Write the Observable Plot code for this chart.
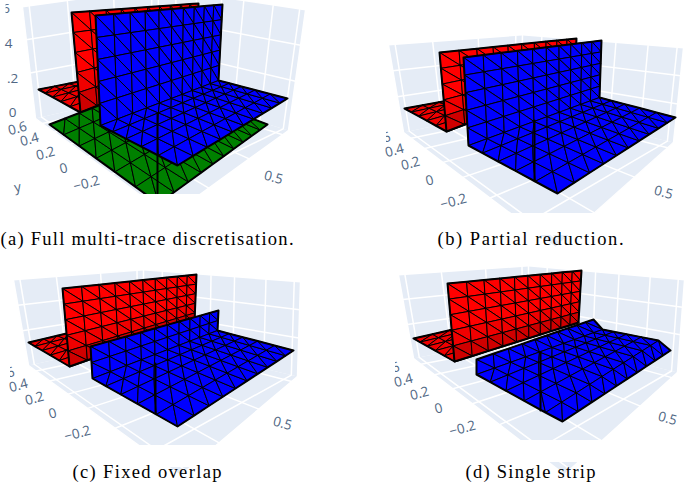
<!DOCTYPE html>
<html><head><meta charset="utf-8">
<style>
html,body{margin:0;padding:0;background:#fff;overflow:hidden}
</style>
<script src="https://cdn.jsdelivr.net/npm/d3@7"></script>
<script src="https://cdn.jsdelivr.net/npm/@observablehq/plot@0.6"></script>
</head><body><div id="chart"></div>
<script>
// In the picture's own units.
const captions = ["(a) Full multi-trace discretisation.","(b) Partial reduction.","(c) Fixed overlap","(d) Single strip"];
const captionAt = [[0,239],[437,239],[72,472],[465,472]];
const captionWidths = [293,186,149,130];
const clipAt = [194,213,445,440];

// scene corners: left-top, centre-top, right-top, left-bottom, centre-bottom, right-bottom, front
const sceneA = [[22,7],[158,-12],[305,10],[35,118],[157,90],[288,130],[169,216]];
const sceneB = [[388,45],[522,35],[683,48],[403,132],[520,107],[673,142],[555,247]];
const sceneC = [[13,280],[143,270],[300,282],[28,365],[143,340],[297,376],[180,475]];
const sceneD = [[398,275],[528,266],[684,280],[413,358],[528,335],[677,372],[564,474]];
const zTicks = [.41,.71];
const yTicksNear = [.05,.14,.26,.39,.57,.80];
const yTicksFar = [.12,.26,.43,.58,.78,.96];
const xTicks = [.05,.33,.67,.95];

// sheets: rails are [leftX,leftY,rightX,rightY], rows is the cell count between rails
const aRedFloor = [[38,89,150,67],[80,112,197,65]];
const aRedWall = [[71,12,198,3],[80,112,197,65]];
const aGreen = [[49,124,158,82],[158,203,267,124]];
const aBlue = [[95,15,222,4],[100,125,218,80],[177,165,287,98]];
const bRedFloor = [[404,108,530,85],[446,131,574,82]];
const bRedWall = [[439,52,576,38],[446,131,574,82]];
const bBlue = [[463,57,601,40],[468,145,599,97],[557,193,675,117]];
const cRedFloor = [[28,342,133,317],[69,366,194,322]];
const cRedWall = [[62,288,196,274],[69,366,194,322]];
const cBlue = [[90,346,218,310],[92,378,217,330],[177,426,293,350]];
const dRedFloor = [[413,338,545,308],[454,361,578,322]];
const dRedWall = [[447,283,581,270],[454,361,578,322]];
const dBlue = [[476,359,593,319],[476,374,602,329],[545,412,658,340],[562,421,670,350]];
const wallRows = {a:[5,5],b:[5,5],c:[2,5],d:[1,4,1]};

// the thick vertical line on each blue sheet
const seams = [[157,113,157,193],[534,120,534,180],[155,363,155,413],[540,352,540,410]];

const aTicks = [["6",5.5,8,0],["4",8,43,0],[".2",12,78,0],["0",12,112,0],["y",17,187,-10],["0.6",17,128,-15],["0.4",29,139,-15],["0.2",45,153,-15],["0",63,168,-15],["−0.2",86,183,-15],["0.5",273,177,15]];
const bTicks = [["6",386,137,-15],["0.4",394,150,-15],["0.2",410,163,-15],["0",429,180,-15],["−0.2",453,201,-15],["0.5",663,192,15]];
const cTicks = [["6",10,372,-15],["0.4",18,385,-15],["0.2",34,398,-15],["0",52,413,-15],["−0.2",77,433,-15],["0.5",282,423,15]];
const dTicks = [["6",395,367,-15],["0.4",403,380,-15],["0.2",419,393,-15],["0",438,408,-15],["−0.2",462,428,-15],["0.5",667,418,15]];
// the crop of each panel cuts the "0.6" label at this left edge
const labelCrop = [[-1,5.5,0,16],[376,386,128,146],[0,10,362,382],[385,395,358,376]];

const colCount = 10, floorRows = 5, greenRows = 6;
let uid = 0;
const lerp = (p,q,t)=>[p[0]+(q[0]-p[0])*t,p[1]+(q[1]-p[1])*t];
const persp = (t,r)=>r*t/(r*t+1-t);
const asRows = pts => { const id = uid++; return pts.map(p=>({x:p[0],y:p[1],id})); };

function sheet(rails, rows, fills, kind){
  const grid = [];
  rails.slice(0,-1).forEach((rail,s)=>{
    const next = rails[s+1], n = rows[s];
    const vr = kind==="floor" || s>0 ? .75 : 1;
    for(let k=s===0?0:1;k<=n;k++){
      const v = persp(k/n,vr);
      const l = lerp([rail[0],rail[1]],[next[0],next[1]],v);
      const r = lerp([rail[2],rail[3]],[next[2],next[3]],v);
      grid.push(d3.range(colCount+1).map(i=>lerp(l,r,persp(i/colCount,1.5))));
    }
  });
  const tris = [];
  const total = grid.length-1;
  const add = (t,fill)=>{ const id=uid++; [...t,t[0]].forEach(p=>tris.push({x:p[0],y:p[1],id,fill})); };
  for(let j=0;j<total;j++) for(let i=0;i<colCount;i++){
    const a=grid[j][i],b=grid[j][i+1],c=grid[j+1][i+1],d=grid[j+1][i];
    const isWall = kind==="wall" || (kind==="mixed" && j<rows[0]);
    const fill = fills(j,total);
    if(isWall){ add([a,b,c],fill); add([a,c,d],fill); }
    else { add([a,b,d],fill); add([b,c,d],fill); }
  }
  const outline = asRows([...grid[0],...grid.map(r=>r[colCount]),...[...grid[total]].reverse(),...[...grid].reverse().map(r=>r[0])]);
  return [
    Plot.line(tris,{x:"x",y:"y",z:"id",fill:"fill",stroke:"#000",strokeWidth:1,strokeLinejoin:"round"}),
    Plot.line(outline,{x:"x",y:"y",z:"id",stroke:"#000",strokeWidth:2,strokeLinejoin:"round"})
  ];
}

function scene(s){
  const [LT,CT,RT,LB,CB,RB,F] = s;
  const polys = [[LT,CT,CB,LB,LT],[CT,RT,RB,CB,CT],[LB,CB,RB,F,LB]];
  const lines = [];
  for(const z of zTicks) lines.push([lerp(LB,LT,z),lerp(CB,CT,z),lerp(RB,RT,z)]);
  yTicksNear.forEach((t,i)=>{ const s2=yTicksFar[i];
    lines.push([lerp(LB,F,t),lerp(CB,RB,s2),lerp(CT,RT,s2)]);
  });
  xTicks.forEach(t=>lines.push([lerp(F,RB,t),lerp(LB,CB,t),lerp(LT,CT,t)]));
  lines.push([LT,LB,F],[RT,RB,F],[CT,CB]);
  return [
    Plot.line(polys.flatMap(asRows).map(d=>({...d,fill:"#E5ECF6"})),{x:"x",y:"y",z:"id",fill:"fill",stroke:"none"}),
    Plot.line(lines.flatMap(asRows),{x:"x",y:"y",z:"id",stroke:"#fff",strokeWidth:1.5})
  ];
}

const redShade = (j,n)=> j===n-1 ? "#cf0000" : j===n-2 ? "#f00000" : "#ff0000";
const redFlat = ()=>"#ee0000", blueFlat = ()=>"#0000ff", greenFlat = ()=>"#008000";

function panel(i, sc, redFloor, redWall, blue, rows, ticks, green){
  const s = seams[i];
  const [cx,cy] = captionAt[i];
  const left = i%2===0 ? 0 : 342, right = i%2===0 ? 342 : 685;
  const crop = labelCrop[i];
  return [
    ...scene(sc),
    ...sheet(redFloor,[floorRows],redFlat,"floor"),
    ...sheet(redWall,[5],redShade,"wall"),
    ...(green ? sheet(green,[greenRows],greenFlat,"floor") : []),
    ...sheet(blue,rows,blueFlat,"mixed"),
    Plot.line(asRows([[s[0],s[1]],[s[2],s[3]]]),{x:"x",y:"y",z:"id",stroke:"#000",strokeWidth:2}),
    Plot.rect([{x1:left,x2:right,y1:clipAt[i],y2:clipAt[i]+22}],{x1:"x1",x2:"x2",y1:"y1",y2:"y2",fill:"#fff"}),
    Plot.text(ticks,{x:d=>d[1],y:d=>d[2],text:d=>d[0],rotate:d=>d[3],fill:"#506784",fontSize:13.5,fontFamily:"Open Sans"}),
    Plot.rect([crop],{x1:d=>d[0],x2:d=>d[1],y1:d=>d[2],y2:d=>d[3],fill:"#fff"}),
    Plot.text([captions[i]],{x:()=>cx,y:()=>cy,text:d=>d,textAnchor:"start",fill:"#000",fontSize:18.5,fontFamily:"Liberation Serif"})
  ];
}

const chart = Plot.plot({
  width:685,height:483,margin:0,
  x:{domain:[0,685],range:[0,685],axis:null},
  y:{domain:[0,483],range:[0,483],axis:null},
  color:{type:"identity"},
  style:{background:"#fff"},
  marks:[
    ...panel(0,sceneA,aRedFloor,aRedWall,aBlue,wallRows.a,aTicks,aGreen),
    ...panel(1,sceneB,bRedFloor,bRedWall,bBlue,wallRows.b,bTicks),
    ...panel(2,sceneC,cRedFloor,cRedWall,cBlue,wallRows.c,cTicks),
    ...panel(3,sceneD,dRedFloor,dRedWall,dBlue,wallRows.d,dTicks)
  ]
});
document.getElementById("chart").appendChild(chart);
// stretch each caption to the width it has in the picture
chart.querySelectorAll("text").forEach(t=>{
  const i = captions.indexOf(t.textContent);
  if(i>=0){ t.setAttribute("textLength",captionWidths[i]); t.setAttribute("lengthAdjust","spacing"); }
});
</script></body></html>
